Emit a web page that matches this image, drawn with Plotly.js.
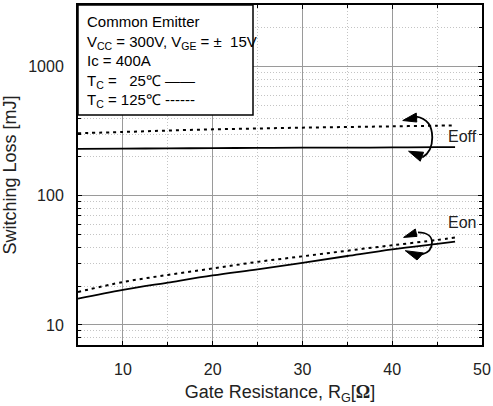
<!DOCTYPE html>
<html>
<head>
<meta charset="utf-8">
<script src="https://cdn.plot.ly/plotly-3.0.1.min.js"></script>
<style>html,body{margin:0;padding:0;background:#fff;}</style>
</head>
<body>
<div id="chart" style="width:493px;height:406px;"></div>
<script>
// ---- data ----
const rg = [5, 10, 15, 20, 25, 30, 35, 40, 45, 47];
const eoff25  = [231, 232, 233, 234, 235, 236, 236, 237, 238, 238];
const eoff125 = [305, 312, 320, 327, 332, 337, 341, 345, 349, 351];
const eon25   = [16.0, 18.7, 21.3, 24.2, 27.0, 30.3, 34.2, 38.5, 42.5, 44.2];
const eon125  = [18.0, 21.5, 24.4, 27.4, 30.8, 34.0, 37.6, 41.4, 45.5, 47.5];
const xTickVals = [10, 20, 30, 40, 50];
const yTickVals = [10, 100, 1000];
const yTickText = ['10', '100', '1000'];
const yMinorVals = [7, 8, 9, 20, 30, 40, 50, 60, 70, 80, 90, 200, 300, 400, 500, 600, 700, 800, 900, 2000, 3000];
const legendLines = [
  'Common Emitter',
  'V<sub>CC</sub> = 300V, V<sub>GE</sub> = \u00B1\u00A0\u00A015V',
  'Ic = 400A',
  'T<sub>C</sub> =\u00A0\u00A0\u00A025\u2103 \u2014\u2014',
  'T<sub>C</sub> = 125\u2103 ------'
];
const labelEoff = {x: 47.8, v: 289, text: 'Eoff'};
const labelEon  = {x: 47.8, v: 62, text: 'Eon'};

// ---- geometry ----
const W = 493, H = 406;
const M = {l: 78, r: 11, t: 5, b: 61};
const plotW = W - M.l - M.r, plotH = H - M.t - M.b;
const xRange = [5, 50];
const yRange = [Math.log10(7), Math.log10(3000)];
function P(x, v, dx, dy) { // data point + pixel offset -> paper coords
  const px = (x - xRange[0]) / (xRange[1] - xRange[0]) + dx / plotW;
  const py = (Math.log10(v) - yRange[0]) / (yRange[1] - yRange[0]) - dy / plotH;
  return px.toFixed(5) + ',' + py.toFixed(5);
}
function arrowShapes(ax, av, arc, head1, head2) {
  const a = arc.map(p => P(ax, av, p[0], p[1]));
  const arcPath = 'M' + a[0] + ' C' + a[1] + ' ' + a[2] + ' ' + a[3] + ' C' + a[4] + ' ' + a[5] + ' ' + a[6];
  const tri = h => 'M' + h.map(p => P(ax, av, p[0], p[1])).join(' L') + ' Z';
  return [
    {type: 'path', xref: 'paper', yref: 'paper', path: arcPath, line: {color: '#000', width: 1.8}, layer: 'above'},
    {type: 'path', xref: 'paper', yref: 'paper', path: tri(head1), fillcolor: '#000', line: {color: '#000', width: 1}, layer: 'above'},
    {type: 'path', xref: 'paper', yref: 'paper', path: tri(head2), fillcolor: '#000', line: {color: '#000', width: 1}, layer: 'above'}
  ];
}
const shapes = [].concat(
  arrowShapes(44.46, 282.6,
    [[-16,-21],[-4,-19],[0,-10],[0,0],[0,10],[-3,16],[-10,20]],
    [[-29.5,-17],[-16,-24.5],[-15.5,-15.5]],
    [[-23.7,13.7],[-8.7,14.7],[-12,23.7]]),
  arrowShapes(44.43, 43.6,
    [[-14,-10],[-5,-10],[0,-6],[0,0],[0,6],[-3,10],[-10,12]],
    [[-28.4,-5],[-16.7,-13.4],[-15,-6]],
    [[-26.7,8.3],[-8.4,10.6],[-15,17.6]])
);
// legend box
shapes.push({type: 'rect', xref: 'paper', yref: 'paper',
  x0: 0, x1: 175 / plotW, y0: 1 - 110 / plotH, y1: 1,
  fillcolor: '#fff', line: {color: '#000', width: 1.5}, layer: 'above'});

const font = 'Liberation Sans, Arial, sans-serif';
const black = '#000';
const traces = [
  {x: rg, y: eoff25, mode: 'lines', line: {color: black, width: 1.8, shape: 'spline'}},
  {x: rg, y: eoff125, mode: 'lines', line: {color: black, width: 2, dash: '3px,4px', shape: 'spline'}},
  {x: rg, y: eon25, mode: 'lines', line: {color: black, width: 1.8, shape: 'spline'}},
  {x: rg, y: eon125, mode: 'lines', line: {color: black, width: 2, dash: '3px,4px', shape: 'spline'}}
];

const minorGrid = {showgrid: true, gridcolor: '#c4c4c4', griddash: '1px,2px', gridwidth: 1, ticks: 'inside', ticklen: 3, tickcolor: '#000'};
const layout = {
  width: W, height: H,
  margin: M,
  paper_bgcolor: '#fff', plot_bgcolor: '#fff',
  showlegend: false,
  font: {family: font, color: '#222', size: 15},
  xaxis: {
    range: xRange, tickvals: xTickVals, ticks: 'inside', ticklen: 4, tickcolor: '#000',
    showline: true, linecolor: '#000', linewidth: 2, mirror: 'ticks',
    showgrid: true, gridcolor: '#9a9a9a', gridwidth: 1, zeroline: false,
    ticklabelstandoff: 9,
    tickfont: {size: 16, color: '#222'},
    minor: Object.assign({tickvals: [5, 15, 25, 35, 45]}, minorGrid),
    title: {text: 'Gate Resistance, R<sub>G</sub>[<span style="font-family:Liberation Serif;font-weight:bold">\u03A9</span>]', font: {size: 18, color: '#222'}, standoff: 8}
  },
  yaxis: {
    type: 'log', range: yRange, tickvals: yTickVals, ticktext: yTickText, ticks: 'inside', ticklen: 4, tickcolor: '#000',
    showline: true, linecolor: '#000', linewidth: 2, mirror: 'ticks',
    showgrid: true, gridcolor: '#9a9a9a', gridwidth: 1, zeroline: false,
    ticklabelstandoff: 9,
    tickfont: {size: 16, color: '#222'},
    minor: Object.assign({tickvals: yMinorVals}, minorGrid),
    title: {text: 'Switching Loss [mJ]', font: {size: 18, color: '#222'}, standoff: 8}
  },
  shapes: shapes,
  annotations: [
    {xref: 'paper', yref: 'paper', x: 0, y: 1, xanchor: 'left', yanchor: 'top', xshift: 7, yshift: -6,
     align: 'left', showarrow: false, text: legendLines.join('<br>'), font: {family: font, size: 15, color: '#000'}},
    {xref: 'x', yref: 'y', x: labelEoff.x, y: Math.log10(labelEoff.v), text: labelEoff.text, showarrow: false, font: {size: 16, color: '#222'}},
    {xref: 'x', yref: 'y', x: labelEon.x, y: Math.log10(labelEon.v), text: labelEon.text, showarrow: false, font: {size: 16, color: '#222'}}
  ]
};
Plotly.newPlot('chart', traces, layout, {displayModeBar: false, staticPlot: true});
</script>
</body>
</html>
